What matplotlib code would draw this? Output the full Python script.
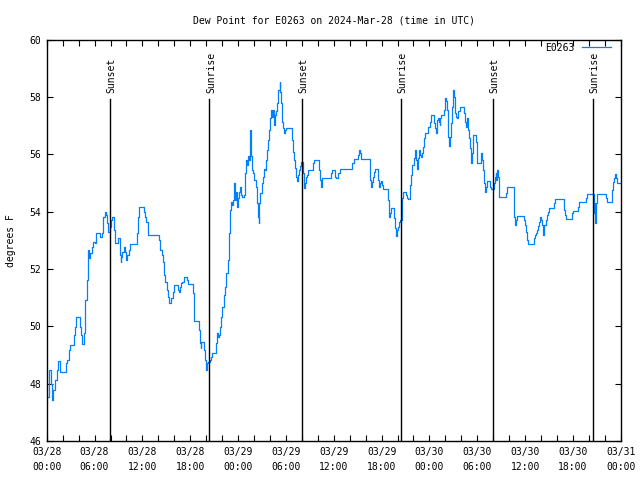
import matplotlib
matplotlib.use("Agg")
import matplotlib.pyplot as plt

# hours since 2024-03-28 00:00 UTC
hours = [
    0.20, 0.33, 0.50, 0.71, 0.83, 1.04, 1.25, 1.46, 1.67, 2.21, 2.42, 2.59, 2.80, 2.96, 3.26, 3.38,
    3.55, 3.72, 3.97, 4.13, 4.30, 4.47, 4.64, 4.80, 5.01, 5.14, 5.30, 5.47, 5.64, 5.80, 6.01, 6.18,
    6.47, 6.64, 6.89, 7.10, 7.27, 7.43, 7.56, 7.73, 7.89, 8.06, 8.23, 8.40, 8.56, 8.81, 8.98, 9.15,
    9.27, 9.32, 9.48, 9.65, 9.82, 9.94, 10.11, 10.28, 10.49, 11.24, 11.32, 11.41, 11.53, 11.99, 12.16,
    12.32, 12.49, 12.66, 12.74, 13.95, 14.12, 14.25, 14.41, 14.58, 14.67, 14.79, 15.00, 15.12, 15.21,
    15.33, 15.50, 15.63, 15.79, 15.96, 16.25, 16.42, 16.55, 16.67, 16.84, 17.00, 17.17, 17.42, 17.59,
    17.76, 18.26, 18.30, 18.43, 18.51, 19.01, 19.14, 19.22, 19.30, 19.39, 19.64, 19.76, 19.89, 20.01,
    20.14, 20.26, 20.43, 20.60, 20.77, 21.02, 21.18, 21.31, 21.44, 21.60, 21.69, 21.85, 22.02, 22.19,
    22.36, 22.52, 22.69, 22.81, 22.94, 23.06, 23.19, 23.36, 23.48, 23.57, 23.69, 23.82, 23.94, 24.11,
    24.24, 24.36, 24.53, 24.78, 24.86, 24.95, 25.07, 25.20, 25.32, 25.45, 25.53, 25.61, 25.74, 25.87,
    26.03, 26.20, 26.32, 26.41, 26.49, 26.58, 26.66, 26.78, 26.95, 27.12, 27.29, 27.37, 27.45, 27.62,
    27.75, 27.91, 28.04, 28.16, 28.25, 28.33, 28.46, 28.54, 28.62, 28.75, 28.87, 28.96, 29.04, 29.17,
    29.25, 29.29, 29.38, 29.46, 29.54, 29.63, 29.79, 29.92, 30.04, 30.55, 30.71, 30.84, 30.96, 31.09,
    31.21, 31.34, 31.47, 31.59, 31.76, 31.88, 32.01, 32.13, 32.26, 32.34, 32.47, 32.59, 32.72, 33.22,
    33.35, 33.51, 34.06, 34.18, 34.31, 34.39, 34.47, 34.64, 35.43, 35.60, 35.77, 35.98, 36.15, 36.31,
    36.40, 36.56, 36.73, 38.15, 38.32, 38.49, 38.90, 39.03, 39.16, 39.24, 39.41, 40.41, 40.49, 40.58,
    40.66, 40.74, 40.87, 41.04, 41.16, 41.33, 41.49, 41.62, 41.79, 41.91, 42.04, 42.16, 42.67, 42.79,
    42.88, 42.96, 43.04, 43.17, 43.42, 43.54, 43.63, 43.75, 43.88, 44.00, 44.17, 44.34, 44.46, 44.55,
    44.67, 44.88, 45.01, 45.17, 45.34, 45.47, 45.59, 45.72, 45.84, 46.01, 46.18, 46.30, 46.43, 46.55,
    46.68, 46.80, 46.93, 47.10, 47.22, 47.35, 47.47, 47.68, 47.85, 48.01, 48.18, 48.43, 48.56, 48.64,
    48.77, 48.89, 49.02, 49.14, 49.27, 49.35, 49.48, 49.73, 49.81, 49.94, 50.06, 50.15, 50.27, 50.36,
    50.44, 50.52, 50.61, 50.69, 50.82, 50.90, 50.98, 51.07, 51.15, 51.23, 51.36, 51.48, 51.61, 51.78,
    52.24, 52.36, 52.44, 52.53, 52.65, 52.74, 52.82, 52.95, 53.07, 53.15, 53.24, 53.32, 53.41, 53.49,
    53.74, 53.82, 53.91, 53.99, 54.20, 54.28, 54.41, 54.49, 54.58, 54.70, 54.83, 54.95, 55.04, 55.16,
    55.41, 55.54, 55.70, 55.91, 56.04, 56.17, 56.29, 56.37, 56.46, 56.54, 56.67, 56.75, 57.50, 57.63,
    57.75, 58.46, 58.55, 58.63, 58.71, 58.80, 58.92, 59.72, 59.84, 59.97, 60.09, 60.22, 60.30, 60.97,
    61.09, 61.22, 61.39, 61.51, 61.64, 61.76, 61.89, 62.01, 62.10, 62.18, 62.31, 62.43, 62.56, 62.69,
    62.81, 62.94, 63.44, 63.57, 63.73, 64.73, 64.86, 64.98, 65.07, 65.78, 65.90, 66.03, 66.53, 66.65,
    66.78, 67.49, 67.61, 67.74, 68.41, 68.58, 68.66, 68.74, 68.87, 68.99, 70.00, 70.12, 70.25, 70.75,
    70.87, 71.00, 71.12, 71.25, 71.37, 71.50, 71.84,
]

dew_point = [
    47.55, 48.48, 48.01, 47.45, 47.78, 48.13, 48.48, 48.80, 48.42, 48.42, 48.71, 48.83, 49.18, 49.35, 49.35, 49.70,
    49.99, 50.32, 50.32, 49.99, 49.70, 49.39, 49.76, 50.92, 51.62, 52.67, 52.38, 52.55, 52.78, 52.96, 52.90, 53.25,
    53.25, 53.13, 53.25, 53.83, 54.00, 53.89, 53.60, 53.31, 53.48, 53.72, 53.83, 53.37, 52.90, 52.90, 53.08, 52.49,
    52.26, 52.43, 52.61, 52.78, 52.61, 52.32, 52.49, 52.67, 52.88, 52.88, 53.25, 53.83, 54.18, 54.18, 54.00,
    53.83, 53.66, 53.37, 53.20, 53.20, 53.02, 52.67, 52.49, 52.26, 51.79, 51.56, 51.56, 51.27, 51.04,
    50.83, 50.83, 50.98, 51.21, 51.45, 51.45, 51.27, 51.21, 51.39, 51.50, 51.56, 51.71, 51.73, 51.62,
    51.47, 51.47, 51.16, 50.57, 50.19, 50.19, 49.87, 49.41, 49.24, 49.47, 49.47, 49.18, 48.83, 48.48,
    48.71, 48.77, 48.83, 48.94, 49.06, 49.06, 49.41, 49.76, 49.64, 49.70, 49.99, 50.34, 50.69, 51.10,
    51.39, 51.85, 52.32, 53.25, 54.06, 54.35, 54.24, 54.41, 55.00, 54.41, 54.70, 54.18, 54.47, 54.70,
    54.88, 54.59, 54.53, 54.59, 55.35, 55.81, 55.64, 55.93, 55.81, 56.51, 56.86, 55.93, 55.46, 55.35,
    55.11, 54.88, 54.65, 54.30, 53.83, 53.60, 54.30, 54.65, 55.00, 55.23, 55.49, 55.46, 55.81, 56.16,
    56.51, 56.86, 57.27, 57.56, 57.32, 57.56, 57.21, 57.03, 57.38, 57.50, 57.79, 58.14, 58.25, 58.25,
    58.54, 58.19, 57.79, 57.44, 57.15, 56.92, 56.74, 56.86, 56.92, 56.92, 56.51, 56.10, 55.81, 55.52,
    55.23, 55.09, 55.29, 55.46, 55.60, 55.75, 55.75, 55.35, 54.82, 55.00, 55.23, 55.29, 55.46, 55.46,
    55.69, 55.81, 55.81, 55.46, 55.11, 54.88, 55.17, 55.19, 55.19, 55.35, 55.46, 55.46, 55.23, 55.19,
    55.17, 55.35, 55.48, 55.48, 55.69, 55.83, 55.83, 55.98, 56.16, 56.04, 55.83, 55.83, 55.46, 55.11,
    54.88, 55.05, 55.23, 55.40, 55.48, 55.48, 55.11, 54.88, 55.00, 55.09, 54.94, 54.80, 54.80, 54.41,
    54.06, 53.83, 53.95, 54.12, 54.12, 53.77, 53.43, 53.16, 53.37, 53.48, 53.66, 53.72, 53.72, 54.47,
    54.70, 54.70, 54.59, 54.47, 54.45, 54.44, 54.94, 55.29, 55.64, 55.87, 56.16, 55.81, 55.48, 55.87,
    56.16, 55.98, 55.90, 56.04, 56.27, 56.57, 56.74, 56.75, 56.97, 57.15, 57.38, 57.38, 57.09, 56.92,
    56.74, 57.21, 57.27, 57.15, 57.03, 57.27, 57.38, 57.38, 57.56, 57.96, 57.88, 57.56, 57.09, 56.62,
    56.30, 56.45, 56.62, 57.09, 57.67, 57.96, 58.25, 58.02, 57.79, 57.44, 57.32, 57.27, 57.50, 57.65,
    57.65, 57.44, 57.15, 56.97, 57.09, 57.27, 56.86, 56.57, 56.22, 55.93, 55.69, 56.04, 56.45, 56.68,
    56.68, 56.45, 56.04, 55.69, 55.69, 55.69, 55.98, 56.04, 55.81, 55.46, 55.00, 54.70, 54.88, 55.09,
    55.09, 54.88, 54.79, 54.79, 55.00, 55.23, 55.35, 55.11, 55.46, 55.23, 54.76, 54.51, 54.51, 54.67,
    54.86, 54.86, 54.53, 53.83, 53.54, 53.72, 53.87, 53.87, 53.72, 53.54, 53.31, 53.02, 52.87, 52.87,
    53.08, 53.20, 53.25, 53.37, 53.51, 53.66, 53.83, 53.72, 53.54, 53.20, 53.37, 53.54, 53.72, 53.89,
    54.00, 54.12, 54.12, 54.30, 54.44, 54.44, 54.06, 53.89, 53.74, 53.74, 53.95, 54.03, 54.03, 54.18,
    54.33, 54.33, 54.47, 54.61, 54.61, 53.95, 54.30, 53.60, 54.30, 54.61, 54.61, 54.47, 54.33, 54.33,
    54.76, 55.05, 55.17, 55.32, 55.17, 55.00, 55.00,
]

sun_hours = [7.97, 20.39, 32.05, 44.46, 56.00, 68.53]
sun_labels = ["Sunset", "Sunrise", "Sunset", "Sunrise", "Sunset", "Sunrise"]

tick_hours = [0, 6, 12, 18, 24, 30, 36, 42, 48, 54, 60, 66, 72]
tick_labels = ["03/28\n00:00", "03/28\n06:00", "03/28\n12:00", "03/28\n18:00",
               "03/29\n00:00", "03/29\n06:00", "03/29\n12:00", "03/29\n18:00",
               "03/30\n00:00", "03/30\n06:00", "03/30\n12:00", "03/30\n18:00",
               "03/31\n00:00"]

plt.rcParams['font.family'] = ['DejaVu Sans Mono']
plt.rcParams['font.size'] = 7

fig = plt.figure(figsize=(6.4, 4.8), dpi=100)
ax = fig.add_axes([0.073, 0.081, 0.897, 0.836])

ax.plot(hours, dew_point, color='#0080ff', lw=0.9, drawstyle='steps-post', label='E0263')

# sunrise / sunset markers
for h, lab in zip(sun_hours, sun_labels):
    ax.axvline(h, ymin=0, ymax=0.852, color='black', lw=1)
    ax.text(h + 0.2, 0.868, lab, transform=ax.get_xaxis_transform(), rotation=90,
            ha='center', va='bottom', fontsize=7)

ax.set_xlim(0, 72)
ax.set_ylim(46, 60)
ax.set_xticks(tick_hours)
ax.set_xticklabels(tick_labels, linespacing=1.65)
ax.set_xticks(range(0, 73, 2), minor=True)
ax.set_yticks(range(46, 61, 2))
ax.tick_params(which='both', direction='in', top=True, right=True, length=4, width=0.8, pad=4)

for s in ax.spines.values():
    s.set_linewidth(1)

ax.set_title("Dew Point for E0263 on 2024-Mar-28 (time in UTC)", fontsize=7, pad=12)
ax.set_ylabel("degrees F", fontsize=7, labelpad=10)

ax.legend(loc='upper right', frameon=False, markerfirst=False, handlelength=3.0,
          borderaxespad=0.3, borderpad=0.1, handletextpad=0.8, fontsize=7,
          bbox_to_anchor=(0.99, 1.003))

fig.savefig('out.png', dpi=100)
